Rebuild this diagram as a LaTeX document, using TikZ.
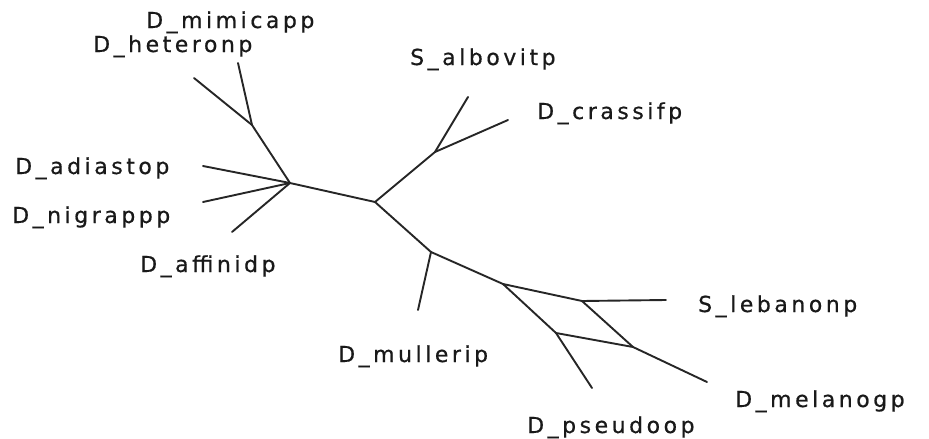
\documentclass[tikz,border=0pt]{standalone}
\usepackage{fontspec}
\setmainfont{DejaVu Sans}[LetterSpace=16,FakeBold=0.6]
\begin{document}
\begin{tikzpicture}[x=1pt,y=-1pt,
  br/.style={line width=1.9pt,draw=black!85,line cap=round,line join=round},
  lbl/.style={anchor=base west,inner sep=0pt,font=\fontsize{22}{26}\selectfont,text=black!90}]
\useasboundingbox (0,0) rectangle (929,439);
% internal nodes
\coordinate (h1) at (290,183);
\coordinate (h2) at (375,202);
\coordinate (het) at (252,125);
\coordinate (alb) at (435,152);
\coordinate (mul) at (431,252);
\coordinate (a) at (503,284);
\coordinate (b) at (582,301);
\coordinate (c) at (556,333);
\coordinate (d) at (633,347);
% leaves
\coordinate (lmim) at (238,63);
\coordinate (lhet) at (194,78);
\coordinate (ladi) at (203,166);
\coordinate (lnig) at (203,202);
\coordinate (laff) at (232,232);
\coordinate (lalb) at (468,97);
\coordinate (lcra) at (508,120);
\coordinate (lmul) at (418,310);
\coordinate (lleb) at (666,300);
\coordinate (lpse) at (592,388);
\coordinate (lmel) at (707,382);
% branches
\draw[br] (h1) -- (h2);
\draw[br] (h1) -- (het);
\draw[br] (het) -- (lmim);
\draw[br] (het) -- (lhet);
\draw[br] (h1) -- (ladi);
\draw[br] (h1) -- (lnig);
\draw[br] (h1) -- (laff);
\draw[br] (h2) -- (alb);
\draw[br] (alb) -- (lalb);
\draw[br] (alb) -- (lcra);
\draw[br] (h2) -- (mul);
\draw[br] (mul) -- (lmul);
\draw[br] (mul) -- (a);
\draw[br] (a) -- (b);
\draw[br] (b) -- (lleb);
\draw[br] (a) -- (c);
\draw[br] (b) -- (d);
\draw[br] (c) -- (d);
\draw[br] (c) -- (lpse);
\draw[br] (d) -- (lmel);
% labels
\node[lbl] (tmim) at (146,28) {D\_mimicapp};
\node[lbl] (thet) at (93,52) {D\_heteronp};
\node[lbl] (tadi) at (15,174) {D\_adiastop};
\node[lbl] (tnig) at (12,223) {D\_nigrappp};
\node[lbl] (taff) at (140,272) {D\_affinidp};
\node[lbl] (talb) at (410,65) {S\_albovitp};
\node[lbl] (tcra) at (537,119) {D\_crassifp};
\node[lbl] (tmul) at (338,362) {D\_mullerip};
\node[lbl] (tleb) at (698,312) {S\_lebanonp};
\node[lbl] (tmel) at (735,407) {D\_melanogp};
\node[lbl] (tpse) at (527,433) {D\_pseudoop};
\end{tikzpicture}
\end{document}
